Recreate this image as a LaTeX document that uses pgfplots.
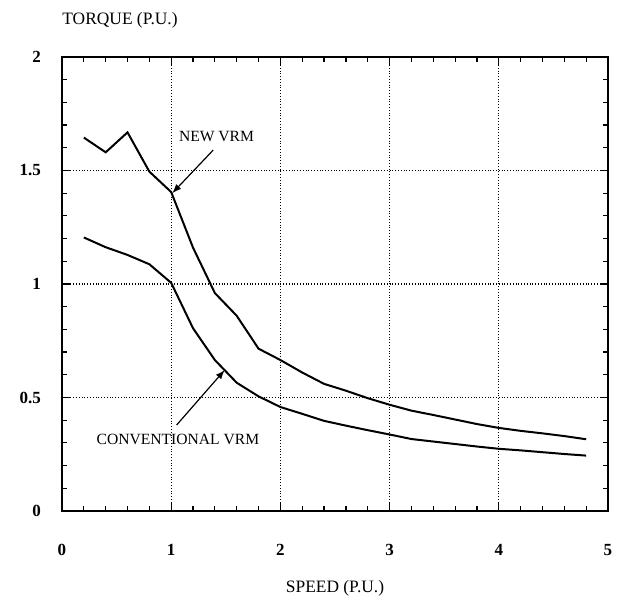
\documentclass[border=0pt]{standalone}
\usepackage{pgfplots}
\pgfplotsset{compat=1.18}
\usepackage{fontspec}
\setmainfont{Liberation Serif}

\begin{document}
\begin{tikzpicture}
\begin{axis}[
    scale only axis,
    width=273pt, height=227pt,
    xmin=0, xmax=5, ymin=0, ymax=2,
    xtick={0,1,2,3,4,5},
    ytick={0,0.5,1,1.5,2},
    minor x tick num=4,
    minor y tick num=4,
    tick align=inside,
    major tick length=4pt,
    minor tick length=2.5pt,
    tick style={black, line width=0.6pt},
    axis line style={black, line width=1pt},
    grid=major,
    major grid style={black, densely dotted, line width=0.6pt},
    /pgf/number format/assume math mode=true,
    tick label style={font=\fontsize{8.5}{9}\selectfont\bfseries},
    xticklabel style={yshift=-13pt},
    yticklabel style={xshift=-7pt},
    clip=false,
]
\addplot[black, line width=1pt] coordinates {
    (0.2,1.645) (0.4,1.58) (0.6,1.668) (0.8,1.495) (1.0,1.405)
    (1.2,1.16) (1.4,0.96) (1.6,0.86) (1.8,0.715) (2.0,0.665)
    (2.2,0.61) (2.4,0.56) (2.6,0.53) (2.8,0.497) (3.0,0.468)
    (3.2,0.442) (3.4,0.423) (3.6,0.403) (3.8,0.383) (4.0,0.366)
    (4.2,0.353) (4.4,0.342) (4.6,0.330) (4.8,0.316)
};
\addplot[black, line width=1pt] coordinates {
    (0.2,1.205) (0.4,1.162) (0.6,1.128) (0.8,1.087) (1.0,1.005)
    (1.2,0.805) (1.4,0.665) (1.6,0.565) (1.8,0.505) (2.0,0.458)
    (2.2,0.428) (2.4,0.397) (2.6,0.376) (2.8,0.356) (3.0,0.337)
    (3.2,0.317) (3.4,0.306) (3.6,0.295) (3.8,0.284) (4.0,0.274)
    (4.2,0.267) (4.4,0.259) (4.6,0.251) (4.8,0.244)
};
\node[font=\fontsize{7.8}{9}\selectfont] at (axis cs:1.415,1.648) {NEW VRM};
\draw[-latex, line width=0.6pt] (axis cs:1.385,1.59) -- (axis cs:1.01,1.40);
\node[font=\fontsize{7.8}{9}\selectfont] at (axis cs:1.062,0.313) {CONVENTIONAL VRM};
\draw[-latex, line width=0.6pt] (axis cs:1.05,0.379) -- (axis cs:1.49,0.621);
\node[font=\fontsize{8.7}{10}\selectfont, anchor=west, inner sep=0pt] at ([yshift=18.5pt]rel axis cs:0,1) {TORQUE (P.U.)};
\node[font=\fontsize{8.7}{10}\selectfont] at ([yshift=-38.5pt]rel axis cs:0.5,0) {SPEED (P.U.)};
\end{axis}
\pgfresetboundingbox
\path[use as bounding box] (-31pt,-43.5pt) rectangle (278pt,255.5pt);
\end{tikzpicture}
\end{document}
